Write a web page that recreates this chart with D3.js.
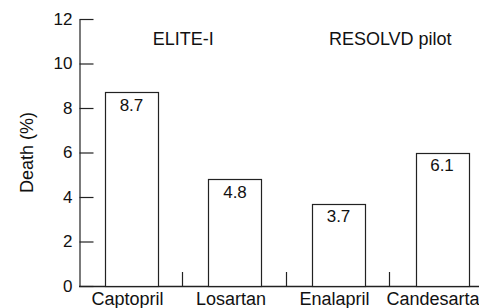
<!DOCTYPE html>
<html>
<head>
<meta charset="utf-8">
<script src="https://cdn.jsdelivr.net/npm/d3@7"></script>
<style>
  html, body { margin: 0; padding: 0; background: #fff; overflow: hidden; }
  svg { display: block; font-family: Arial, "Liberation Sans", Helvetica, sans-serif; }
</style>
</head>
<body>
<svg id="chart" width="479" height="308"></svg>
<script>
const categories = ["Captopril", "Losartan", "Enalapril", "Candesartan"];
const deathValues = [8.7, 4.8, 3.7, 6.0];
const valueLabels = ["8.7", "4.8", "3.7", "6.1"];
const groupTitles = ["ELITE-I", "RESOLVD pilot"];
const groupMembers = [[0, 1], [2, 3]];
const yTicks = [0, 2, 4, 6, 8, 10, 12];
const yTitle = "Death (%)";

(function () {
const svg = d3.select("#chart");
const W = 479, H = 308;
const mLeft = 79, mTop = 19, mBottom = 286;
const ink = "#222";
const fsNum = 17, fsTxt = 18;

const y = d3.scaleLinear().domain([0, 12]).range([mBottom, mTop]);
const x = d3.scaleBand().domain(categories).range([mLeft, 494.5])
  .paddingInner(0.488).paddingOuter(0.251);

// y axis
const yAxis = d3.axisLeft(y).tickValues(yTicks).tickSizeInner(-14).tickSizeOuter(0).tickPadding(7);
const gy = svg.append("g").attr("transform", `translate(${mLeft + 0.5},0)`).call(yAxis);
gy.select(".domain").attr("stroke", ink).attr("stroke-width", 1.2);
gy.selectAll(".tick line").attr("stroke", ink).attr("stroke-width", 1.2);
gy.selectAll(".tick text").attr("font-size", fsNum).attr("fill", "#111")
  .attr("font-family", "Arial, 'Liberation Sans', sans-serif");

// x baseline
svg.append("line")
  .attr("x1", mLeft).attr("x2", W)
  .attr("y1", y(0) + 0.5).attr("y2", y(0) + 0.5)
  .attr("stroke", ink).attr("stroke-width", 1.4);

// bars
svg.append("g").selectAll("rect").data(categories).join("rect")
  .attr("x", d => Math.round(x(d)) + 0.5)
  .attr("y", (d, i) => Math.round(y(deathValues[i])) + 0.5)
  .attr("width", x.bandwidth())
  .attr("height", (d, i) => y(0) - Math.round(y(deathValues[i])))
  .attr("fill", "#fff").attr("stroke", ink).attr("stroke-width", 1.2);

// value labels
svg.append("g").selectAll("text").data(categories).join("text")
  .attr("x", d => x(d) + x.bandwidth() / 2)
  .attr("y", (d, i) => y(deathValues[i]) + 18.5)
  .attr("text-anchor", "middle").attr("font-size", fsNum).attr("fill", "#111")
  .text((d, i) => valueLabels[i]);

// separator ticks between bars
const seps = categories.slice(0, -1).map(d => x(d) + x.bandwidth() + (x.step() - x.bandwidth()) / 2 - 1);
svg.append("g").selectAll("line").data(seps).join("line")
  .attr("x1", d => Math.round(d) + 0.5).attr("x2", d => Math.round(d) + 0.5)
  .attr("y1", y(0) - 14).attr("y2", y(0))
  .attr("stroke", ink).attr("stroke-width", 1.2);

// category labels
svg.append("g").selectAll("text").data(categories).join("text")
  .attr("x", d => x(d) + x.bandwidth() / 2 - 4)
  .attr("y", 305)
  .attr("text-anchor", "middle").attr("font-size", fsTxt).attr("fill", "#111")
  .text(d => d);

// group titles
svg.append("g").selectAll("text").data(groupTitles).join("text")
  .attr("x", (d, i) => {
    const a = categories[groupMembers[i][0]], b = categories[groupMembers[i][1]];
    return (x(a) + x(b) + x.bandwidth()) / 2;
  })
  .attr("y", 45)
  .attr("text-anchor", "middle").attr("font-size", fsTxt).attr("fill", "#111")
  .text(d => d);

// y title
svg.append("text")
  .attr("transform", `translate(33,${(mTop + mBottom) / 2}) rotate(-90)`)
  .attr("text-anchor", "middle").attr("font-size", fsTxt).attr("fill", "#111")
  .text(yTitle);
})();
</script>
</body>
</html>
